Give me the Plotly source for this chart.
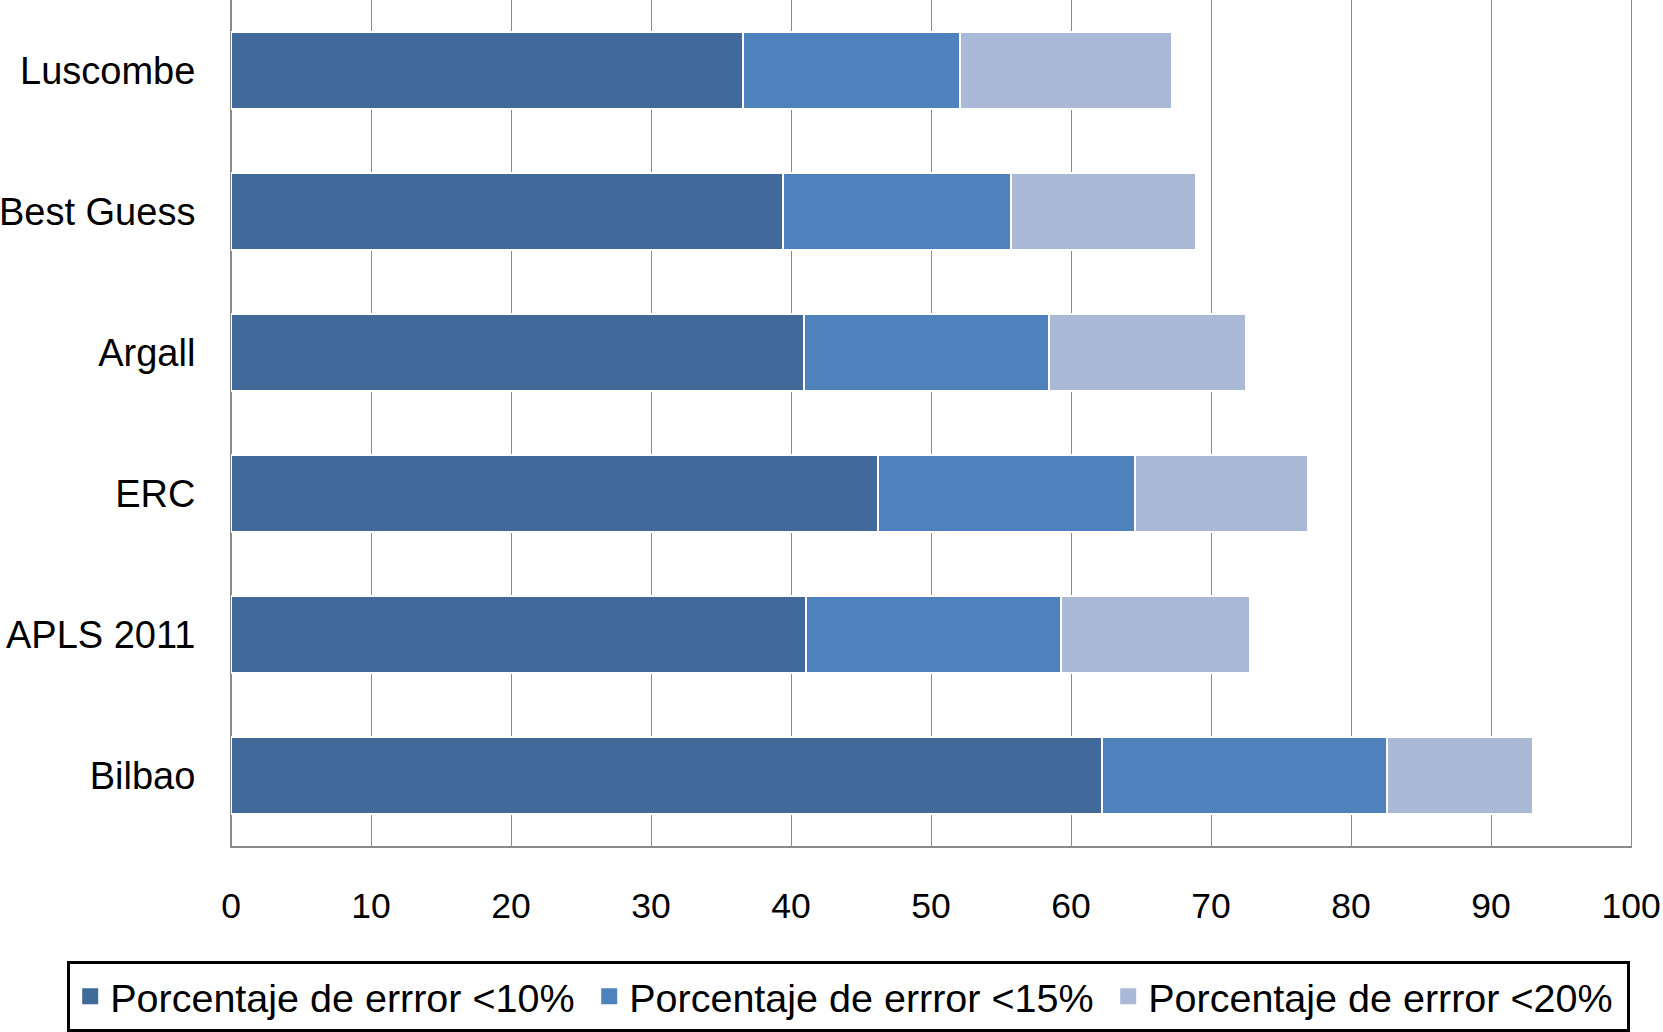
import plotly.graph_objects as go

categories = ["Luscombe", "Best Guess", "Argall", "ERC", "APLS 2011", "Bilbao"]
err10 = [36.6, 39.4, 40.9, 46.2, 41.1, 62.2]
err15_extra = [15.5, 16.3, 17.5, 18.4, 18.2, 20.4]
err20_extra = [15.1, 13.2, 14.1, 12.3, 13.5, 10.4]
series_names = ["Porcentaje de errror <10%", "Porcentaje de errror <15%", "Porcentaje de errror <20%"]
colors = ["#416A9B", "#4F81BC", "#AAB9D6"]
xticks = list(range(0, 101, 10))

fig = go.Figure()
for name, vals, col in zip(series_names, [err10, err15_extra, err20_extra], colors):
    fig.add_trace(go.Bar(
        y=categories, x=vals, orientation="h", name=name, showlegend=False,
        marker=dict(color=col, line=dict(color="white", width=2)),
    ))
# legend-only entries with larger square swatches
for name, col in zip(series_names, colors):
    fig.add_trace(go.Scatter(
        x=[None], y=[None], mode="markers", name=name,
        marker=dict(symbol="square", size=22, color=col),
    ))

font_family = "Liberation Sans, Arial, sans-serif"
fig.update_layout(
    width=1663, height=1032,
    barmode="stack", bargap=0.45,
    plot_bgcolor="white", paper_bgcolor="white",
    margin=dict(l=231, r=32, t=0, b=181),
    font=dict(family=font_family, size=38, color="black"),
    showlegend=True,
    legend=dict(
        orientation="h", x=-0.117, xanchor="left",
        y=-0.136, yanchor="top",
        bordercolor="black", borderwidth=3, itemwidth=30,
        entrywidth=474,
        font=dict(size=39.5), traceorder="normal",
    ),
    xaxis=dict(
        range=[0, 100], tickvals=xticks, ticktext=[str(v) for v in xticks],
        showgrid=True, gridcolor="#8a8a8a", gridwidth=1,
        zeroline=True, zerolinecolor="#8a8a8a", zerolinewidth=1,
        showline=True, linecolor="#8a8a8a", linewidth=2,
        ticks="", ticklabelstandoff=27, tickfont=dict(size=35.5),
        tickangle=0, automargin=False, ticklabeloverflow="allow",
    ),
    yaxis=dict(
        autorange="reversed", showgrid=False, zeroline=False,
        showline=True, linecolor="#8a8a8a", linewidth=1, mirror=True,
        ticks="", ticklabelstandoff=27, tickfont=dict(size=38), automargin=False,
    ),
)

fig.write_html(
    "out.html",
    config={"displayModeBar": False},
    post_script="document.body.style.margin='0';document.body.style.overflow='hidden';",
)
